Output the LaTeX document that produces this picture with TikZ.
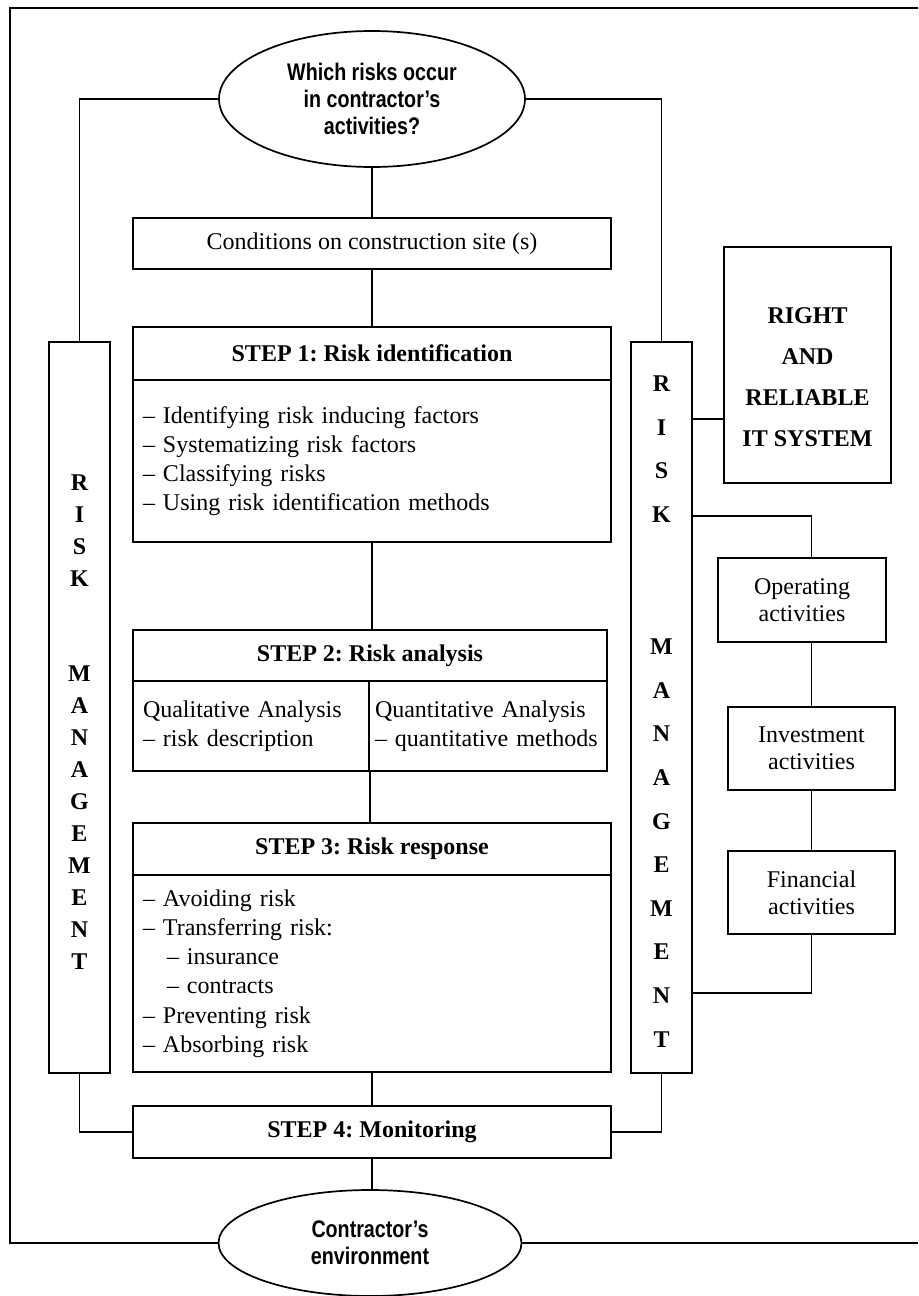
\documentclass[tikz,border=0pt]{standalone}
\usepackage{fontspec}
\setmainfont{Liberation Serif}
\newfontfamily\narrowsans[FakeStretch=0.82]{Liberation Sans}
\usetikzlibrary{positioning,shapes.geometric}
\frenchspacing

\begin{document}
\begin{tikzpicture}[x=0.5pt,y=-0.5pt,
        box/.style={draw,line width=0.85pt,inner sep=0pt,font=\fontsize{12}{14.6}\selectfont},
        head/.style={box,font=\bfseries\fontsize{12}{14.6}\selectfont,minimum width=239pt,minimum height=26.5pt},
        body/.style={box,minimum width=239pt,text width=229pt,align=left},
        oval/.style={draw,ellipse,line width=0.85pt,inner sep=0pt,align=center,font=\narrowsans\bfseries\fontsize{12}{13.3}\selectfont},
        rmbox/.style={box,minimum width=30.5pt,minimum height=365.5pt},
        rmtext/.style={align=center,inner sep=0pt,font=\bfseries\fontsize{12}{16}\selectfont},
        actbox/.style={box,align=center,minimum height=41.5pt,font=\fontsize{12}{13.5}\selectfont},
        link/.style={line width=0.65pt}]
            \useasboundingbox (0,0) rectangle (918,1296);
            \node[oval,minimum width=153pt,minimum height=68pt] (risks) at (372,99) {Which risks occur\\in contractor’s\\activities?};
            \node[box,minimum width=239pt,minimum height=25.5pt] (cond) at (372,243.5) {Conditions on construction site (s)};
            \node[head] (s1head) at (372,353.5) {STEP 1: Risk identification};
            \node[body,minimum height=81pt] (s1body) at (372,461) {– Identifying risk inducing factors\\– Systematizing risk factors\\– Classifying risks\\– Using risk identification methods};
            \node[head,minimum width=237pt,minimum height=25.5pt] (s2head) at (370,655.5) {STEP 2: Risk analysis};
            \node[body,minimum width=118pt,minimum height=45pt,text width=108pt] (s2left) at (251,726) {Qualitative Analysis\\– risk description};
            \node[body,minimum width=119pt,minimum height=45pt,text width=113pt] (s2right) at (488,726) {Quantitative Analysis\\– quantitative methods};
            \node[head,minimum height=26pt] (s3head) at (372,849) {STEP 3: Risk response};
            \node[body,minimum height=98.5pt] (s3body) at (372,973.5) {– Avoiding risk\\– Transferring risk:\\\hspace*{12pt}– insurance\\\hspace*{12pt}– contracts\\– Preventing risk\\– Absorbing risk};
            \node[head,minimum height=26pt] (s4) at (372,1132) {STEP 4: Monitoring};
            \node[oval,minimum width=151.5pt,minimum height=53pt] (env) at (370,1243) {Contractor’s\\environment};
            \node[rmbox] (rmleft) at (79.5,707.5) {};
            \node[rmtext] (rmlefttxt) at (79.5,722.5) {R\\I\\S\\K\\[31.5pt]M\\A\\N\\A\\G\\E\\M\\E\\N\\T};
            \node[rmbox] (rmright) at (661.5,707.5) {};
            \node[rmtext,font=\bfseries\fontsize{12}{21.8}\selectfont] (rmrighttxt) at (661.5,711.5) {R\\I\\S\\K\\[44.25pt]M\\A\\N\\A\\G\\E\\M\\E\\N\\T};
            \node[box,line width=1.35pt,minimum width=83.5pt,minimum height=118pt] (itbox) at (807.5,365) {};
            \node[align=center,inner sep=0pt,font=\bfseries\fontsize{12}{20.5}\selectfont] (ittxt) at (807.5,377.5) {RIGHT\\AND\\RELIABLE\\IT SYSTEM};
            \node[actbox,minimum width=84pt,minimum height=42pt] (operating) at (802,600) {Operating\\activities};
            \node[actbox,minimum width=83.5pt] (investment) at (811.5,748.5) {Investment\\activities};
            \node[actbox,minimum width=83.5pt] (financial) at (811.5,892.5) {Financial\\activities};
            \draw[link] (risks) -- (cond);
            \draw[link] (cond) -- (s1head);
            \draw[link] (s1body.south) -- (s1body.south |- s2head.north);
            \draw[link] (s2left.south east) -- (s2left.south east |- s3head.north);
            \draw[link] (s3body) -- (s4);
            \draw[link] (s4.south) -- (s4.south |- env.north);
            \draw[link] (risks.west) -| (rmleft.north);
            \draw[link] (risks.east) -| (rmright.north);
            \draw[link] (rmleft.south) |- (s4.west);
            \draw[link] (rmright.south) |- (s4.east);
            \draw[link] (rmright.east |- 0,419) -- (itbox.west |- 0,419);
            \draw[link] (rmright.east |- 0,516) -| (operating.north -| investment.north);
            \draw[link] (operating.south -| investment.north) -- (investment);
            \draw[link] (investment) -- (financial);
            \draw[link] (financial) |- (rmright.east |- 0,993);
            \draw[line width=1pt] (918,8) -- (10,8) -- (10,1243) -- (env.west);
            \draw[line width=1pt] (env.east) -- (918,1243);
        \end{tikzpicture}
\end{document}
